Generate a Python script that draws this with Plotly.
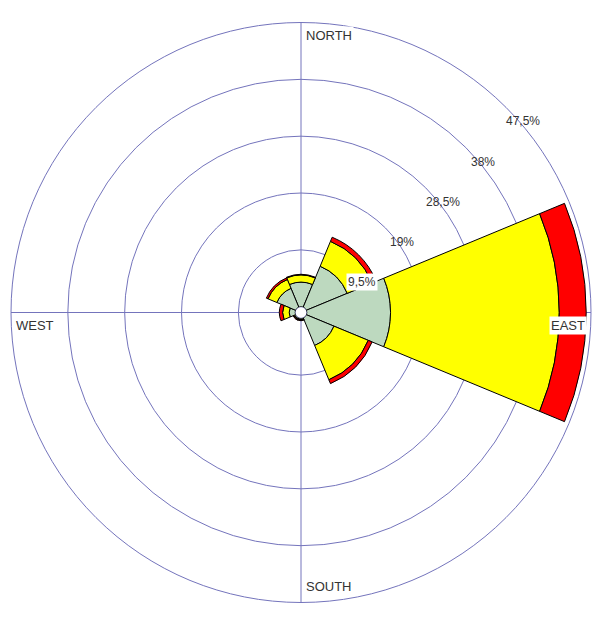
import plotly.graph_objects as go

# wind rose data, % of time per direction and speed class
directions = ["N", "NE", "E", "SE", "S", "SW", "W", "NW"]
angles = [0, 45, 90, 135, 180, 225, 270, 315]
low_speed = [4.1, 7.4, 14.0, 5.0, 0.2, 0.2, 1.0, 3.4]
mid_speed = [1.2, 4.5, 28.2, 6.2, 0.1, 0.15, 1.1, 1.6]
high_speed = [0.1, 0.75, 4.5, 0.7, 0.1, 0.1, 0.55, 0.3]

ring_vals = [9.5, 19, 28.5, 38, 47.5]
ring_text = ["9,5%", "19%", "28,5%", "38%", "47,5%"]
compass_text = ["NORTH", "EAST", "SOUTH", "WEST"]

W, H = 600, 634
PAGE_OFF = 8                  # body margin of the html page
CX, CY, R = 301 - PAGE_OFF, 312.5 - PAGE_OFF, 290   # center and radius in pixels
HOLE = 0.02
RMAX = 47.5
grid_col = "#7474bc"
txt_col = "#333333"

fig = go.Figure()
for vals, col, name in [(low_speed, "#bdd9bf", "low"),
                        (mid_speed, "#ffff00", "mid"),
                        (high_speed, "#ff0000", "high")]:
    fig.add_trace(go.Barpolar(r=vals, theta=angles, width=[45] * len(angles),
                              name=name, marker_color=col,
                              marker_line_color="black", marker_line_width=1,
                              hovertext=directions))

x0 = (CX - R) / W
x1 = (CX + R) / W
y0 = (H - CY - R) / H
y1 = (H - CY + R) / H
cx = CX / W
cy = (H - CY) / H

fig.update_layout(
    width=W, height=H,
    margin=dict(l=0, r=0, t=0, b=0),
    paper_bgcolor="white",
    showlegend=False,
    barmode="stack",
    polar=dict(
        domain=dict(x=[x0, x1], y=[y0, y1]),
        bgcolor="white",
        hole=HOLE,
        bargap=0,
        radialaxis=dict(range=[0, RMAX], tickvals=ring_vals, showticklabels=False,
                        ticks="", showline=False, gridcolor=grid_col, gridwidth=1,
                        layer="below traces"),
        angularaxis=dict(direction="clockwise", rotation=90, tickvals=[0, 90, 180, 270],
                         showticklabels=False, ticks="", gridcolor=grid_col, gridwidth=1,
                         linecolor=grid_col, linewidth=1, layer="below traces"),
    ),
)

font = dict(family="Liberation Sans, Arial", size=12, color=txt_col)
font_c = dict(family="Liberation Sans, Arial", size=13, color=txt_col)

# ring labels along the 45 degree line
for v, t in zip(ring_vals, ring_text):
    rp = R * HOLE + v / RMAX * R * (1 - HOLE)
    d = rp * 0.7071
    fig.add_annotation(x=cx + d / W, y=cy + d / H, xref="paper", yref="paper",
                       text=t, showarrow=False, font=font, xanchor="center",
                       yanchor="middle", xshift=17, yshift=-14,
                       bgcolor="white" if v == ring_vals[0] else None, borderpad=1)

# compass labels inside the outer ring
fig.add_annotation(x=cx, y=cy + R / H, xref="paper", yref="paper", text=compass_text[0],
                   showarrow=False, font=font_c, xanchor="left", yanchor="top",
                   xshift=3, yshift=-3, bgcolor="white", borderpad=1)
fig.add_annotation(x=cx + R / W, y=cy, xref="paper", yref="paper", text=compass_text[1],
                   showarrow=False, font=font_c, xanchor="right", yanchor="top",
                   xshift=-4, yshift=-3, bgcolor="white", borderpad=1)
fig.add_annotation(x=cx, y=cy - R / H, xref="paper", yref="paper", text=compass_text[2],
                   showarrow=False, font=font_c, xanchor="left", yanchor="bottom",
                   xshift=3, yshift=7)
fig.add_annotation(x=cx - R / W, y=cy, xref="paper", yref="paper", text=compass_text[3],
                   showarrow=False, font=font_c, xanchor="left", yanchor="top",
                   xshift=3, yshift=-3)

fig.write_html("out.html")
